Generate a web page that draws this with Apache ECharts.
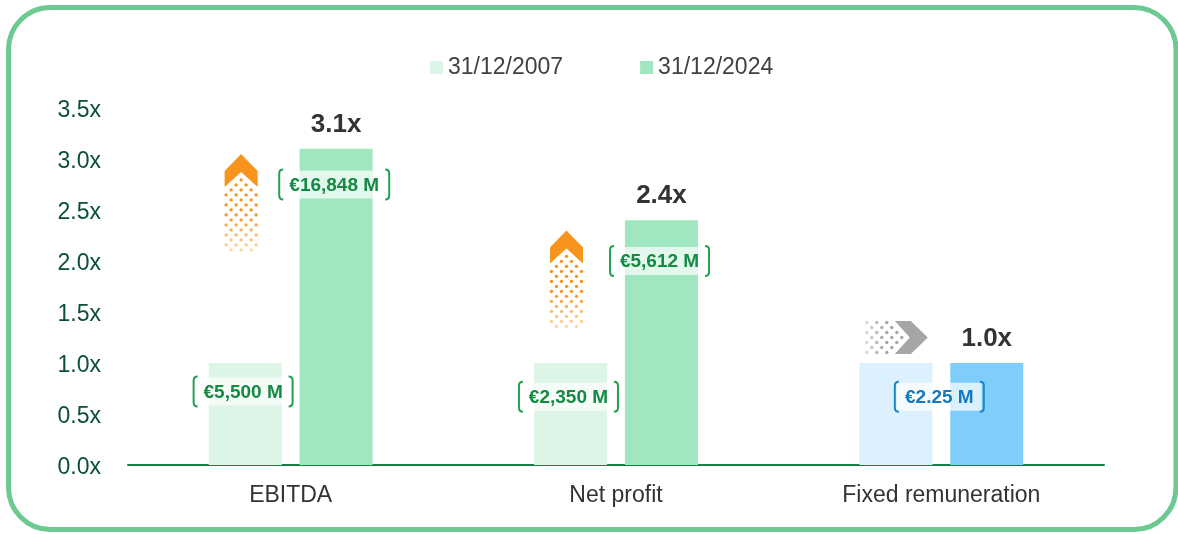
<!DOCTYPE html>
<html>
<head>
<meta charset="utf-8">
<style>
  html, body { margin: 0; padding: 0; background: #fff; }
  #chart { width: 1178px; height: 534px; }
</style>
<script src="https://cdn.jsdelivr.net/npm/echarts@6/dist/echarts.min.js"></script>
</head>
<body>
<div id="chart"></div>
<script>
// categories and series
const categories = ['EBITDA', 'Net profit', 'Fixed remuneration'];
const legendNames = ['31/12/2007', '31/12/2024'];
const values2007 = [1.0, 1.0, 1.0];
const values2024 = [3.1, 2.4, 1.0];
const yTicks = [0, 0.5, 1, 1.5, 2, 2.5, 3, 3.5];

// amount labels in brackets: [category index, y value, side(-1 = 2007 bar, 1 = 2024 bar, 0 = both)]
const amountPos = [[0, 0.72, -1], [0, 2.75, 1], [1, 0.67, -1], [1, 2.0, 1], [2, 0.67, 0]];
const amountText = ['€5,500 M', '€16,848 M', '€2,350 M', '€5,612 M', '€2.25 M'];

// growth arrows: [category index, tip value]
const arrowPos = [[0, 3.05], [1, 2.3], [2, 1.25]];
const arrowDir = ['up', 'up', 'right'];

const FONT = 'Liberation Sans, Arial, sans-serif';
const GREEN = { light: '#DDF5E7', dark: '#A0E6BF', text: '#148A43', bracket: '#22A052' };
const BLUE = { light: '#DDF0FD', dark: '#7FCDFB', text: '#1479BD', bracket: '#1C86C8' };

let chart = echarts.init(document.getElementById('chart'));

//文字宽度
let measureCtx = document.createElement('canvas').getContext('2d');
function textWidth(text, font) {
  measureCtx.font = font;
  return measureCtx.measureText(text).width;
}

function barColors(which) {
  return function (params) {
    let pal = params.dataIndex === 2 ? BLUE : GREEN;
    return pal[which];
  };
}

/**
 * 括号标签
 */
function renderAmount(params, api) {
  let cat = api.value(0);
  let side = api.value(2);
  let p = api.coord([cat, api.value(1)]);
  let band = api.size([1, 0])[0];
  let cx = p[0] + side * band * 0.14 - 2;
  let cy = p[1];
  let text = amountText[params.dataIndex];
  let pal = cat === 2 ? BLUE : GREEN;
  let font = 'bold 19px ' + FONT;
  let w = Math.round(textWidth(text, font) + 20);
  let h = 30;
  let l = cx - w / 2, r = cx + w / 2, t = cy - h / 2, b = cy + h / 2;
  let hook = 4;
  return {
    type: 'group',
    children: [{
        type: 'rect',
        shape: { x: l + 2, y: t + 1, width: w - 4, height: h - 2 },
        style: { fill: 'rgba(255,255,255,0.7)' }
      },
      {
        type: 'path',
        shape: {
          pathData: 'M' + (l + hook) + ' ' + t + ' Q' + l + ' ' + t + ' ' + l + ' ' + (t + hook) +
            ' L' + l + ' ' + (b - hook) + ' Q' + l + ' ' + b + ' ' + (l + hook) + ' ' + b
        },
        style: { fill: null, stroke: pal.bracket, lineWidth: 2 }
      },
      {
        type: 'path',
        shape: {
          pathData: 'M' + (r - hook) + ' ' + t + ' Q' + r + ' ' + t + ' ' + r + ' ' + (t + hook) +
            ' L' + r + ' ' + (b - hook) + ' Q' + r + ' ' + b + ' ' + (r - hook) + ' ' + b
        },
        style: { fill: null, stroke: pal.bracket, lineWidth: 2 }
      },
      {
        type: 'text',
        style: {
          text: text,
          x: cx,
          y: cy + 1,
          align: 'center',
          verticalAlign: 'middle',
          font: font,
          fill: pal.text
        }
      }
    ]
  };
}

/**
 * 箭头：实心人字形 + 渐隐的圆点
 */
function renderArrow(params, api) {
  let cat = api.value(0);
  let p = api.coord([cat, api.value(1)]);
  let band = api.size([1, 0])[0];
  let dir = arrowDir[params.dataIndex];
  let bx = p[0] - band * 0.14;
  let tip, back, perp, rows, color;
  if (dir === 'up') {
    tip = [bx - 4, p[1]];
    back = [0, 1];
    perp = [1, 0];
    rows = 15;
    color = '#F7941D';
  } else {
    tip = [bx + 32, p[1]];
    back = [-1, 0];
    perp = [0, 1];
    rows = 8;
    color = '#A6A6A6';
  }
  function pt(v, u) {
    return [tip[0] + u * back[0] + v * perp[0], tip[1] + u * back[1] + v * perp[1]];
  }
  let children = [{
    type: 'polygon',
    shape: {
      points: [pt(0, 0), pt(16.5, 17), pt(16.5, 33), pt(0, 18), pt(-16.5, 33), pt(-16.5, 17)]
    },
    style: { fill: color }
  }];
  for (let k = 0; k < rows; k++) {
    let u = 26 + 5 * k;
    let offs = k % 2 === 0 ? [0, -10, 10] : [-5, 5, -15, 15];
    let limit = (u - 18) / 0.9;
    let op = k < rows * 0.45 ? 1 : Math.max(0.3, 1 - (k - rows * 0.45) * (0.7 / (rows * 0.55)));
    offs.forEach(function (v) {
      if (Math.abs(v) > limit) return;
      let c = pt(v, u);
      children.push({
        type: 'circle',
        shape: { cx: c[0], cy: c[1], r: 1.7 },
        style: { fill: color, opacity: op }
      });
    });
  }
  return { type: 'group', children: children };
}

let option = {
  animation: false,
  textStyle: { fontFamily: FONT },
  graphic: [{
    type: 'rect',
    shape: { x: 8.5, y: 7.5, width: 1167.5, height: 522, r: 42 },
    style: { fill: null, stroke: '#6CC992', lineWidth: 5 },
    z: -1
  }],
  legend: {
    top: 51,
    left: 425,
    itemGap: 77,
    itemWidth: 13,
    itemHeight: 13,
    icon: 'rect',
    textStyle: { fontSize: 23, color: '#404040', fontFamily: FONT },
    data: legendNames
  },
  grid: {
    top: 108,
    left: 128,
    right: 74,
    bottom: 69
  },
  xAxis: {
    type: 'category',
    data: categories,
    axisTick: { show: false },
    axisLine: { lineStyle: { color: '#168040', width: 2 } },
    axisLabel: { fontSize: 23, color: '#333333', margin: 19, fontFamily: FONT }
  },
  yAxis: {
    type: 'value',
    min: 0,
    max: 3.5,
    interval: 0.5,
    splitLine: { show: false },
    axisLine: { show: false },
    axisLabel: {
      margin: 27,
      formatter: function (v) {
        return '{t|' + v.toFixed(1) + 'x}';
      },
      rich: {
        t: {
          fontSize: 23,
          color: '#0B4F35',
          fontFamily: FONT,
          padding: [6, 0, 0, 0]
        }
      }
    }
  },
  series: [{
      name: legendNames[0],
      type: 'bar',
      data: values2007,
      barWidth: 73,
      barGap: '24.5%',
      itemStyle: { color: barColors('light') },
      color: GREEN.light
    },
    {
      name: legendNames[1],
      type: 'bar',
      data: values2024,
      barWidth: 73,
      barGap: '24.5%',
      itemStyle: { color: barColors('dark') },
      color: GREEN.dark,
      label: {
        show: true,
        position: 'top',
        distance: 11,
        fontSize: 26,
        fontWeight: 'bold',
        color: '#333333',
        fontFamily: FONT,
        formatter: function (p) {
          return p.value.toFixed(1) + 'x';
        }
      }
    },
    {
      type: 'custom',
      renderItem: renderArrow,
      data: arrowPos,
      silent: true,
      clip: false,
      z: 5
    },
    {
      type: 'custom',
      renderItem: renderAmount,
      data: amountPos,
      silent: true,
      clip: false,
      z: 6
    }
  ]
};

if (option && typeof option === 'object') {
  chart.setOption(option);
}
</script>
</body>
</html>
